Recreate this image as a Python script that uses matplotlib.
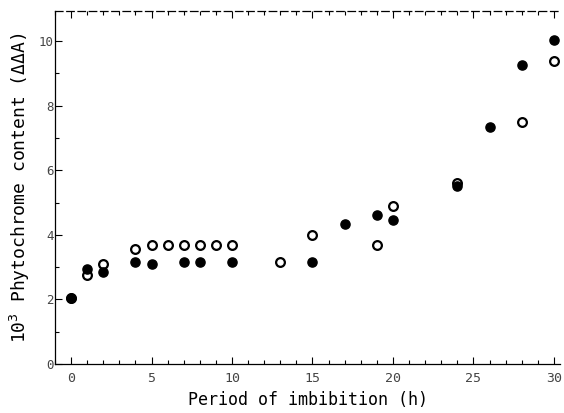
import matplotlib
matplotlib.use("Agg")
import matplotlib.pyplot as plt
from matplotlib.ticker import MultipleLocator

# open circles
open_x = [0, 1, 2, 4, 5, 6, 7, 8, 9, 10, 13, 15, 19, 20, 24, 28, 30]
open_y = [2.05, 2.75, 3.08, 3.57, 3.67, 3.67, 3.67, 3.67, 3.67, 3.67, 3.17, 3.98, 3.67, 4.88, 5.6, 7.5, 9.4]

# filled circles
fill_x = [0, 1, 2, 4, 5, 7, 8, 10, 15, 17, 19, 20, 24, 26, 28, 30]
fill_y = [2.05, 2.93, 2.86, 3.17, 3.08, 3.17, 3.17, 3.17, 3.17, 4.32, 4.62, 4.47, 5.5, 7.35, 9.27, 10.03]

mono = "DejaVu Sans Mono"

fig = plt.figure(figsize=(5.64, 4.13), dpi=100)
ax = fig.add_axes([0.0975, 0.119, 0.896, 0.854])

ax.plot(open_x, open_y, "o", ms=6.3, mfc="white", mec="black", mew=1.6, zorder=3)
ax.plot(fill_x, fill_y, "o", ms=6.6, mfc="black", mec="black", zorder=4)

ax.set_xlim(-1, 30.4)
ax.set_ylim(0, 10.93)

ax.xaxis.set_major_locator(MultipleLocator(5))
ax.xaxis.set_minor_locator(MultipleLocator(1))
ax.yaxis.set_major_locator(MultipleLocator(2))
ax.yaxis.set_minor_locator(MultipleLocator(1))

ax.tick_params(which="both", direction="in", top=True, right=False, width=0.8, color="black")
ax.tick_params(which="major", length=5)
ax.tick_params(which="minor", length=3)
ax.tick_params(axis="y", pad=1, labelsize=9, labelcolor="#444444")
ax.tick_params(axis="x", pad=6, labelsize=9.5, labelcolor="#444444")
for lab in ax.get_xticklabels() + ax.get_yticklabels():
    lab.set_family(mono)

ax.spines["right"].set_visible(False)
ax.spines["top"].set_linestyle((0, (6, 3)))
for s in ["left", "bottom", "top"]:
    ax.spines[s].set_linewidth(0.9)

ax.set_xlabel("Period of imbibition (h)", fontsize=12, family=mono, labelpad=4)
ax.set_ylabel("10$^3$ Phytochrome content (ΔΔA)", fontsize=13, family=mono, labelpad=5)

plt.savefig("out.png", dpi=100)
